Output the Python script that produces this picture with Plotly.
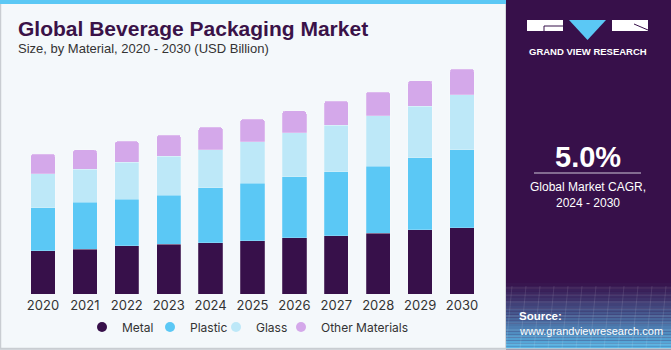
import plotly.graph_objects as go
import numpy as np

years = ["2020", "2021", "2022", "2023", "2024", "2025", "2026", "2027", "2028", "2029", "2030"]
metal = [43.0, 44.6, 47.9, 49.6, 50.9, 52.6, 55.9, 57.8, 60.5, 63.8, 65.5]
plastic = [42.7, 46.3, 46.0, 48.6, 54.3, 57.5, 60.2, 63.5, 66.5, 71.4, 77.7]
glass = [33.4, 32.7, 36.7, 38.7, 38.0, 41.0, 43.7, 46.0, 49.9, 51.0, 54.3]
other = [19.8, 19.4, 20.8, 20.8, 22.2, 22.5, 21.8, 24.1, 23.5, 25.4, 25.5]
series_names = ["Metal", "Plastic", "Glass", "Other Materials"]
series_colors = ["#37104a", "#5bc8f5", "#bde8f8", "#d4a8ea"]
highlight_year = "2023"
highlight_label = "$157.7B"

W, H = 671, 350
ML, MR, MT, MB = 22, 188, 62, 56
PW = W - ML - MR
PH = H - MT - MB

fig = go.Figure()
for name, vals, col in zip(series_names, [metal, plastic, glass, other], series_colors):
    fig.add_trace(go.Bar(
        x=years, y=vals, name=name, showlegend=False,
        marker=dict(color=col, line=dict(color="rgba(255,255,255,0.35)", width=0.6)),
        width=0.58,
    ))

# legend entries with circular markers, each in its own legend for exact placement
legend_ids = ["legend", "legend2", "legend3", "legend4"]
dot_x = [101, 169, 235, 300]
for name, col, lid in zip(series_names, series_colors, legend_ids):
    fig.add_trace(go.Scatter(x=[None], y=[None], mode="markers", name=name, legend=lid,
                             marker=dict(color=col, size=10, symbol="circle")))

BG = "#f4f8fb"
PANEL = "#37104a"

legend_common = dict(orientation="h", xref="container", yref="container",
                     xanchor="left", y=(H - 327) / H, yanchor="middle",
                     font=dict(family="Inter, Roboto, sans-serif", size=12, color="#333333"),
                     itemwidth=30, bgcolor="rgba(0,0,0,0)")
legend_layout = {}
for lid, dx in zip(legend_ids, dot_x):
    legend_layout[lid] = dict(legend_common, x=(dx - 19) / W)

fig.update_layout(
    barmode="stack",
    barcornerradius=3,
    width=W, height=H,
    margin=dict(l=ML, r=MR, t=MT, b=MB, autoexpand=False),
    paper_bgcolor=BG,
    plot_bgcolor=BG,
    showlegend=True,
    xaxis=dict(type="category", showgrid=False, zeroline=False, showline=False,
               tickfont=dict(family="Inter, Roboto, sans-serif", size=13, color="#333333"),
               ticks="", range=[-0.5, 10.5], ticklabelstandoff=2),
    yaxis=dict(visible=False, range=[0, 230.2]),
    **legend_layout,
)

def pxx(xpix):
    return (xpix - ML) / PW

def py(ypix):
    return (H - MB - ypix) / PH

ps = []
# outer left panel border
ps.append(dict(type="rect", xref="paper", yref="paper", x0=pxx(0.5), x1=pxx(506),
               y0=py(348.5), y1=py(0), line=dict(color="#c9cdd2", width=1.5),
               fillcolor="rgba(0,0,0,0)", layer="below"))
# top cyan strip
ps.append(dict(type="rect", xref="paper", yref="paper", x0=pxx(0), x1=pxx(506),
               y0=py(4), y1=py(0), line=dict(width=0), fillcolor="#5bc8f5"))
# right panel
px0, px1 = pxx(506), pxx(671)
ps.append(dict(type="rect", xref="paper", yref="paper", x0=px0, x1=px1, y0=py(350), y1=py(0),
               line=dict(width=0), fillcolor=PANEL))
# gradient at bottom of panel
c0 = np.array([0x37, 0x10, 0x4a])
c1 = np.array([0x5a, 0xbc, 0xec])
steps = 24
top, bot = 280, 349
for i in range(steps):
    y0p = top + (bot - top) * i / steps
    y1p = top + (bot - top) * (i + 1) / steps
    t = (i + 0.5) / steps
    c = (c0 + (c1 - c0) * t ** 1.2).astype(int)
    ps.append(dict(type="rect", xref="paper", yref="paper", x0=px0, x1=px1,
                   y0=py(y1p), y1=py(y0p), line=dict(width=0),
                   fillcolor="rgb(%d,%d,%d)" % tuple(c)))
# faint grid pattern
for k in range(9):
    yy = 288 + k * 7
    ps.append(dict(type="line", xref="paper", yref="paper", x0=px0, x1=px1, y0=py(yy), y1=py(yy),
                   line=dict(color="rgba(255,255,255,0.13)", width=1)))
for k in range(12):
    xx = 512 + k * 14
    ps.append(dict(type="line", xref="paper", yref="paper", x0=pxx(xx), x1=pxx(xx - 6), y0=py(286), y1=py(349),
                   line=dict(color="rgba(255,255,255,0.10)", width=1)))
# bottom gray line
ps.append(dict(type="line", xref="paper", yref="paper", x0=pxx(0), x1=pxx(671), y0=py(349), y1=py(349),
               line=dict(color="#c9cdd2", width=1.5)))
# logo
ps.append(dict(type="rect", xref="paper", yref="paper", x0=pxx(527), x1=pxx(563), y0=py(31), y1=py(20),
               line=dict(width=0), fillcolor="white"))
ps.append(dict(type="rect", xref="paper", yref="paper", x0=pxx(612), x1=pxx(648), y0=py(31), y1=py(20),
               line=dict(width=0), fillcolor="white"))
ps.append(dict(type="path", xref="paper", yref="paper",
               path="M %f %f L %f %f L %f %f Z" % (pxx(569), py(20), pxx(606), py(20), pxx(587.5), py(40)),
               line=dict(width=0), fillcolor="#5bc8f5"))
ps.append(dict(type="line", xref="paper", yref="paper", x0=pxx(544), x1=pxx(563), y0=py(26), y1=py(26),
               line=dict(color=PANEL, width=1)))
ps.append(dict(type="line", xref="paper", yref="paper", x0=pxx(544), x1=pxx(544), y0=py(26), y1=py(31),
               line=dict(color=PANEL, width=1)))
ps.append(dict(type="line", xref="paper", yref="paper", x0=pxx(634), x1=pxx(648), y0=py(24), y1=py(30),
               line=dict(color=PANEL, width=1)))
# separator under 5.0%
ps.append(dict(type="line", xref="paper", yref="paper", x0=pxx(534), x1=pxx(641), y0=py(173), y1=py(173),
               line=dict(color="#d0c8d8", width=1)))
fig.update_layout(shapes=ps)

ann = []
ann.append(dict(xref="paper", yref="paper", x=pxx(16), y=py(28), xanchor="left", yanchor="middle",
                text="<b>Global Beverage Packaging Market</b>", showarrow=False,
                font=dict(family="Liberation Sans, Arial, sans-serif", size=21, color="#3a1248")))
ann.append(dict(xref="paper", yref="paper", x=pxx(16), y=py(48), xanchor="left", yanchor="middle",
                text="Size, by Material, 2020 - 2030 (USD Billion)", showarrow=False,
                font=dict(family="Liberation Sans, Arial, sans-serif", size=13, color="#333333")))
ann.append(dict(x=highlight_year, y=sum(v[years.index(highlight_year)] for v in [metal, plastic, glass, other]),
                xref="x", yref="y", text=highlight_label, showarrow=False, yanchor="bottom", yshift=6,
                font=dict(family="Inter, Roboto, sans-serif", size=13, color="#333333")))
ann.append(dict(xref="paper", yref="paper", x=pxx(587.5), y=py(51), xanchor="center", yanchor="middle",
                text="<b>GRAND VIEW RESEARCH</b>", showarrow=False,
                font=dict(family="Liberation Sans, Arial, sans-serif", size=9.5, color="white")))
ann.append(dict(xref="paper", yref="paper", x=pxx(587.5), y=py(157), xanchor="center", yanchor="middle",
                text="<b>5.0%</b>", showarrow=False,
                font=dict(family="Liberation Sans, Arial, sans-serif", size=29, color="white")))
ann.append(dict(xref="paper", yref="paper", x=pxx(587.5), y=py(195), xanchor="center", yanchor="middle",
                text="Global Market CAGR,<br>2024 - 2030", showarrow=False,
                font=dict(family="Liberation Sans, Arial, sans-serif", size=12, color="white")))
ann.append(dict(xref="paper", yref="paper", x=pxx(517), y=py(316), xanchor="left", yanchor="middle",
                text="<b>Source:</b>", showarrow=False,
                font=dict(family="Liberation Sans, Arial, sans-serif", size=11.5, color="white")))
ann.append(dict(xref="paper", yref="paper", x=pxx(517), y=py(331), xanchor="left", yanchor="middle",
                text="www.grandviewresearch.com", showarrow=False,
                font=dict(family="Liberation Sans, Arial, sans-serif", size=11, color="white")))
fig.update_layout(annotations=ann)

fig.write_html("out.html")
